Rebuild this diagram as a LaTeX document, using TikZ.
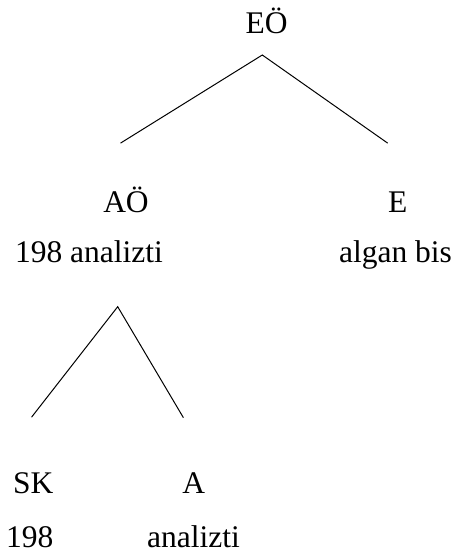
\documentclass[tikz,border=0pt]{standalone}
\usepackage{fontspec}
\setmainfont{Liberation Serif}
\newfontfamily\tmfont{Liberation Serif}
\begin{document}
\begin{tikzpicture}[x=1pt,y=-1pt,
  lbl/.style={anchor=base,inner sep=0pt,font=\tmfont\fontsize{31.5}{37}\selectfont},
  edge/.style={line width=1pt,line cap=round}]
\useasboundingbox (0,0) rectangle (454,555);
% labels
\node[lbl] (EO) at (266.5,33.3) {EÖ};
\node[lbl] (AO) at (126,212.5) {AÖ};
\node[lbl] (E) at (397.7,212.5) {E};
\node[lbl] (AOv) at (89,262.5) {198 analizti};
\node[lbl] (Ev) at (395.5,262.5) {algan bis};
\node[lbl] (SK) at (33.3,493.3) {SK};
\node[lbl] (A) at (193.8,493.3) {A};
\node[lbl] (SKv) at (29.7,547.3) {198};
\node[lbl] (Av) at (193.5,547.3) {analizti};
% branch points
\coordinate (t0) at (262.3,55);
\coordinate (t1) at (120.7,143);
\coordinate (t2) at (387.5,143);
\coordinate (b0) at (117.7,306.7);
\coordinate (b1) at (31.7,417);
\coordinate (b2) at (183.3,417.5);
\draw[edge] (t1) -- (t0) -- (t2);
\draw[edge] (b1) -- (b0) -- (b2);
\end{tikzpicture}
\end{document}
